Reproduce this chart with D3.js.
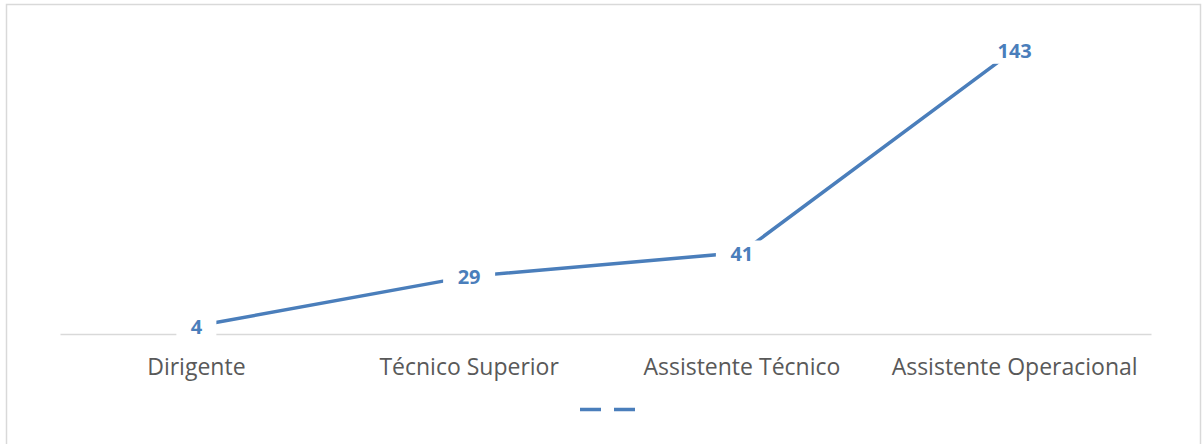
<!DOCTYPE html>
<html>
<head>
<meta charset="utf-8">
<script src="https://cdn.jsdelivr.net/npm/d3@7"></script>
<style>
    body { margin: 0; background: #fff; }
    svg { display: block; }
</style>
</head>
<body>
<svg width="1203" height="444"></svg>
<script>
var categories = [ 'Dirigente', 'Técnico Superior', 'Assistente Técnico', 'Assistente Operacional' ],
    values     = [ 4, 29, 41, 143 ],
    yMax       = 160;

var svg    = d3.select( 'svg' ),
    margin = { top : 16, left : 60, right : 52, bottom : 110 },
    width  = +svg.attr( 'width' ) - margin.left - margin.right,
    height = +svg.attr( 'height' ) - margin.top - margin.bottom,
    blue   = '#4a7ebb',

    x = d3.scaleBand().domain( categories ).range( [ 0, width ] ),
    y = d3.scaleLinear().domain( [ 0, yMax ] ).range( [ height, 0 ] ),

    data = categories.map( function ( c, i ) {
        return { cat : c, value : values[ i ] };
    } );

// outer chart border (bottom edge falls outside the picture)
svg.append( 'path' )
    .attr( 'd', 'M6.5,446 V4.5 H1200.5 V446' )
    .attr( 'fill', 'none' )
    .attr( 'stroke', '#d9d9d9' )
    .attr( 'stroke-width', 1.5 );

var g = svg.append( 'g' )
    .attr( 'transform', 'translate(' + margin.left + ',' + margin.top + ')' );

var xAxis = g.append( 'g' )
    .attr( 'transform', 'translate(0,' + height + ')' )
    .call( d3.axisBottom( x ).tickSize( 0 ).tickPadding( 25 ) );

xAxis.select( '.domain' )
    .attr( 'stroke', '#d9d9d9' )
    .attr( 'stroke-width', 1.5 );

xAxis.selectAll( 'text' )
    .attr( 'fill', '#595959' )
    .style( 'font-family', 'Open Sans, sans-serif' )
    .style( 'font-size', '23px' );

var line = d3.line()
    .x( function ( d ) { return x( d.cat ) + x.bandwidth() / 2; } )
    .y( function ( d ) { return y( d.value ); } );

g.append( 'path' )
    .datum( data )
    .attr( 'fill', 'none' )
    .attr( 'stroke', blue )
    .attr( 'stroke-width', 3.5 )
    .attr( 'd', line );

var labels = g.selectAll( '.label' )
    .data( data )
    .enter().append( 'g' )
    .attr( 'class', 'label' )
    .attr( 'transform', function ( d ) {
        return 'translate(' + ( x( d.cat ) + x.bandwidth() / 2 ) + ',' + ( y( d.value ) + 1 ) + ')';
    } );

labels.append( 'rect' )
    .attr( 'x', function ( d ) { return -( String( d.value ).length * 6 + 14 ); } )
    .attr( 'y', -13 )
    .attr( 'width', function ( d ) { return 2 * ( String( d.value ).length * 6 + 14 ); } )
    .attr( 'height', 26 )
    .attr( 'fill', '#fff' );

labels.append( 'text' )
    .attr( 'text-anchor', 'middle' )
    .attr( 'dy', '0.35em' )
    .attr( 'fill', blue )
    .style( 'font-family', 'Open Sans, sans-serif' )
    .style( 'font-weight', 'bold' )
    .style( 'font-size', '20px' )
    .text( function ( d ) { return d.value; } );

// legend: dashed line sample, no text
svg.append( 'line' )
    .attr( 'x1', 580 )
    .attr( 'x2', 635 )
    .attr( 'y1', 409.5 )
    .attr( 'y2', 409.5 )
    .attr( 'stroke', blue )
    .attr( 'stroke-width', 3.5 )
    .attr( 'stroke-dasharray', '21,13' );
</script>
</body>
</html>
